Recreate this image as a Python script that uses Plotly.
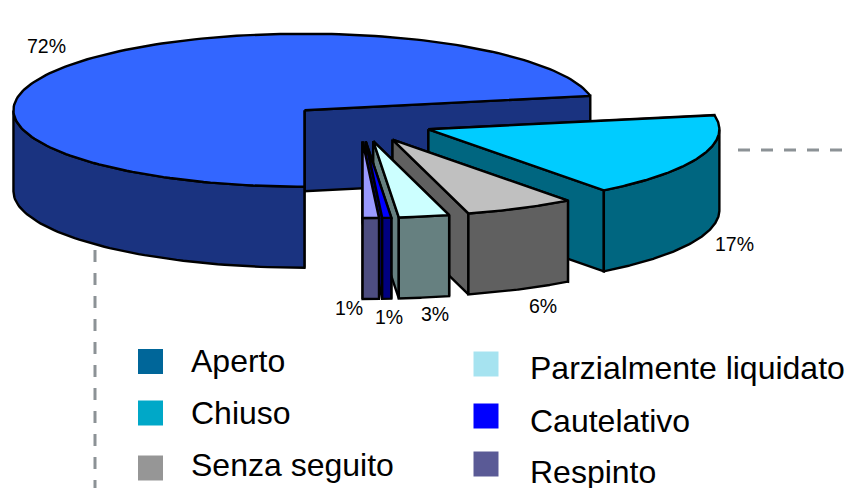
import numpy as np
import plotly.graph_objects as go

# Data
categories = ["Aperto", "Chiuso", "Senza seguito", "Parzialmente liquidato", "Cautelativo", "Respinto"]
values = [72.0, 17.7, 6.1, 2.8, 0.5, 0.9]
percent_labels = ["72%", "17%", "6%", "3%", "1%", "1%"]

# Styles
top_colors = ["#3366FF", "#00CCFF", "#C0C0C0", "#CCFFFF", "#0000FF", "#9999FF"]
side_colors = ["#1A3380", "#006680", "#606060", "#668080", "#000080", "#4D4D80"]
legend_colors = ["#006699", "#00A8C8", "#969696", "#A6E3F0", "#0000FF", "#5A5A96"]
legend_marker_x = [150.5, 150.5, 150.5, 486, 486, 486]
legend_marker_y = [361.5, 413, 468, 364, 416, 464]
legend_text_x = [189, 189, 189, 528, 528, 528]
legend_text_y = [361, 413, 465, 368, 421, 472]
label_x = [46, 734, 543, 435, 349, 389]
label_y = [46, 244, 306, 314, 308, 317]

# Projection of the pie
CX, CY = 360.5, 122.4
RX, RY = 291, 76.5
DEPTH = 81
EXPLODE = 0.25
START = -90.0


def poly(fig, xs, ys, color):
    fig.add_trace(go.Scatter(
        x=xs, y=ys, mode="lines", fill="toself", fillcolor=color,
        line=dict(color="black", width=2.4), hoverinfo="skip", showlegend=False))


fig = go.Figure()

total = sum(values)
a0 = START
for val, top, side in zip(values, top_colors, side_colors):
    a1 = a0 - val / total * 360
    mid = np.radians((a0 + a1) / 2)
    ax = CX + EXPLODE * RX * np.cos(mid)
    ay = CY - EXPLODE * RY * np.sin(mid)
    ang = np.radians(np.linspace(a0, a1, 180))
    px = ax + RX * np.cos(ang)
    py = ay - RY * np.sin(ang)

    # radial faces, hidden one first
    ends = [(px[0], py[0]), (px[-1], py[-1])]
    faces = [ends[0], ends[1]] if val / total < 0.5 else [ends[1], ends[0]]
    if val / total < 0.5:
        faces = [ends[0], ends[1]] if np.sin(np.radians(a0)) > np.sin(np.radians(a1)) else [ends[1], ends[0]]
    for ex, ey in faces:
        poly(fig, [ax, ex, ex, ax, ax], [ay, ey, ey + DEPTH, ay + DEPTH, ay], side)

    # outer wall, front half only
    front = np.sin(ang) <= 0
    if front.any():
        fx, fy = px[front], py[front]
        poly(fig, list(fx) + list(fx[::-1]) + [fx[0]],
             list(fy) + list(fy[::-1] + DEPTH) + [fy[0]], side)

    # top
    poly(fig, [ax] + list(px) + [ax], [ay] + list(py) + [ay], top)
    a0 = a1

# Legend
fig.add_trace(go.Scatter(
    x=legend_marker_x, y=legend_marker_y, mode="markers",
    marker=dict(symbol="square", size=25, color=legend_colors, line=dict(width=0)),
    hoverinfo="skip", showlegend=False))

annotations = []
for name, x, y in zip(categories, legend_text_x, legend_text_y):
    annotations.append(dict(x=x, y=y, text=name, showarrow=False, xanchor="left", yanchor="middle",
                            font=dict(family="Liberation Sans", size=32, color="black")))
for t, x, y in zip(percent_labels, label_x, label_y):
    annotations.append(dict(x=x, y=y, text=t, showarrow=False, xanchor="center", yanchor="middle",
                            font=dict(family="Liberation Sans", size=19.5, color="black")))

leader = dict(color="#8C9296", width=3, dash="12px,11px")
shapes = [
    dict(type="line", x0=738, y0=150, x1=848, y1=150, line=leader),
    dict(type="line", x0=95, y0=250, x1=95, y1=488, line=leader, layer="below"),
]

fig.update_layout(
    width=848, height=488, margin=dict(l=0, r=0, t=0, b=0),
    paper_bgcolor="white", plot_bgcolor="white", showlegend=False,
    xaxis=dict(range=[0, 848], visible=False, fixedrange=True),
    yaxis=dict(range=[488, 0], visible=False, fixedrange=True),
    annotations=annotations, shapes=shapes,
)
fig.write_html("out.html", config={"displayModeBar": False},
               post_script="document.body.style.margin='0';document.documentElement.style.overflow='hidden';")
